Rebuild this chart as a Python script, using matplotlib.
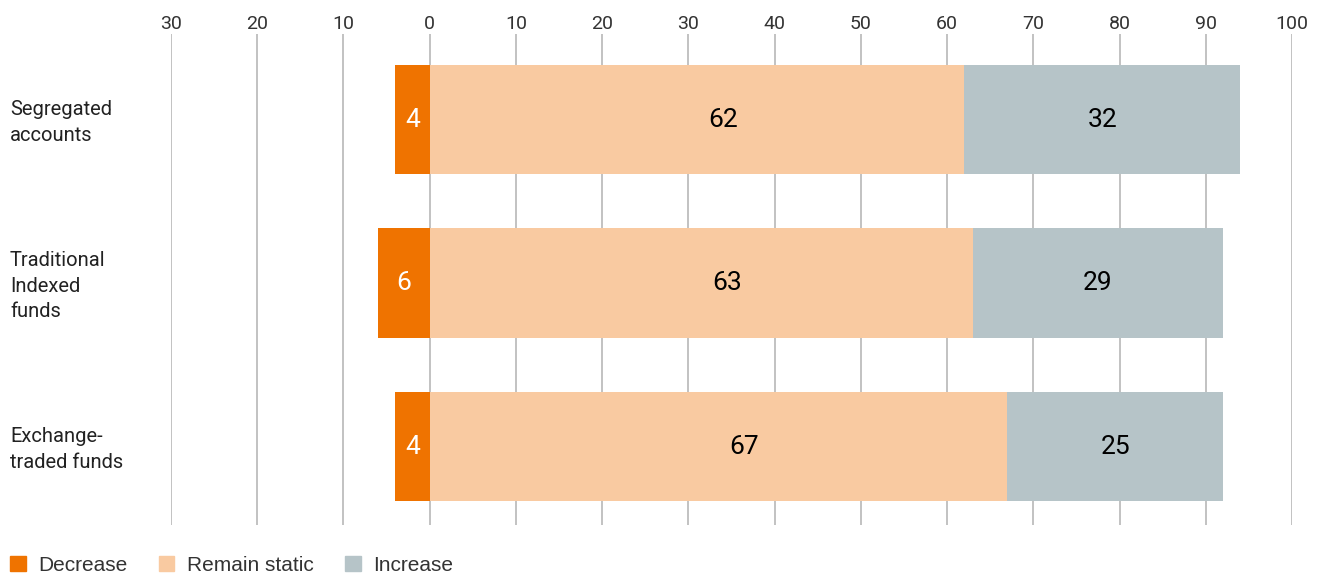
import numpy as np
import matplotlib.pyplot as plt
from matplotlib.patches import Patch

categories = ['Segregated\naccounts', 'Traditional\nIndexed\nfunds', 'Exchange-\ntraded funds']
decrease = [4, 6, 4]
remain = [62, 63, 67]
increase = [32, 29, 25]
ticks = [-30, -20, -10, 0, 10, 20, 30, 40, 50, 60, 70, 80, 90, 100]

C_DEC = '#ef7300'
C_REM = '#f9caa1'
C_INC = '#b6c4c8'
NARROW = ['Roboto', 'DejaVu Sans']
plt.rcParams['font.family'] = ['Liberation Sans', 'DejaVu Sans']

fig = plt.figure(figsize=(13.25, 5.77), dpi=100)
ax = fig.add_axes([171/1325, 1-525/577, (1292-171)/1325, (525-34)/577])

y = np.arange(len(categories))
dec = np.array(decrease); rem = np.array(remain); inc = np.array(increase)
h = 0.667
ax.barh(y, -dec, height=h, color=C_DEC, zorder=2)
ax.barh(y, rem, height=h, color=C_REM, zorder=2)
ax.barh(y, inc, left=rem, height=h, color=C_INC, zorder=2)

# value labels
for i in range(len(y)):
    ax.text(-dec[i]/2, y[i], str(dec[i]), color='white', ha='center', va='center', fontsize=19, family=NARROW)
    ax.text(rem[i]/2 + 3, y[i], str(rem[i]), color='black', ha='center', va='center', fontsize=19, family=NARROW)
    ax.text(rem[i] + inc[i]/2, y[i], str(inc[i]), color='black', ha='center', va='center', fontsize=19, family=NARROW)

# category labels at the far left
for i, lab in enumerate(categories):
    ax.annotate(lab, xy=(0, y[i]), xycoords=('figure fraction', 'data'), xytext=(10, -3), textcoords='offset pixels',
                ha='left', va='center', fontsize=14.5, linespacing=1.45, color='#222222', family=NARROW)

ax.set_xlim(-30, 100)
ax.set_ylim(2.48, -0.523)
ax.set_xticks(ticks)
ax.set_xticklabels([str(abs(t)) for t in ticks], family=NARROW, fontsize=14, color='#333333')
ax.xaxis.tick_top()
ax.tick_params(axis='x', length=0, pad=1)
ax.set_yticks([])
for s in ax.spines.values():
    s.set_visible(False)
for t in ticks:
    ax.axvline(t, color='#bdbdbd', lw=1.3, zorder=1)

handles = [Patch(color=C_DEC, label='Decrease'), Patch(color=C_REM, label='Remain static'), Patch(color=C_INC, label='Increase')]
fig.legend(handles=handles, loc='lower left', bbox_to_anchor=(0.003, -0.007), ncol=3, frameon=False,
           borderaxespad=0, borderpad=0.3, fontsize=15, handlelength=0.75, handleheight=0.75,
           handletextpad=0.6, columnspacing=1.5, labelcolor='#333333')

fig.savefig('out.png', dpi=100)
